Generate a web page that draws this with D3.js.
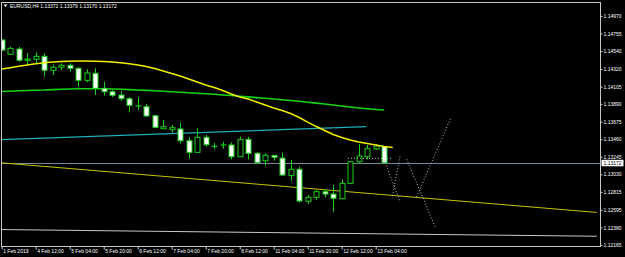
<!DOCTYPE html>
<html>
<head>
<meta charset="utf-8">
<script src="https://cdn.jsdelivr.net/npm/d3@7"></script>
<style>
  body { margin: 0; background: #000; }
  svg { display: block; font-family: 'Liberation Sans', Arial, sans-serif; }
</style>
</head>
<body>
<script>
/* global d3 */
var width = 625
var height = 257

var symbol = 'EURUSD,H4'

// time axis: bar index of each label
var timeTickBars = [0, 4, 8, 12, 16, 20, 24, 28, 32, 36, 40, 44]
var timeLabels = ['1 Feb 2019', '4 Feb 12:00', '5 Feb 04:00', '5 Feb 20:00', '6 Feb 12:00', '7 Feb 04:00',
  '7 Feb 20:00', '8 Feb 12:00', '11 Feb 04:00', '11 Feb 20:00', '12 Feb 12:00', '13 Feb 04:00']

var priceTicks = ['1.14970', '1.14755', '1.14540', '1.14320', '1.14105', '1.13890', '1.13675',
  '1.13460', '1.13245', '1.13030', '1.12815', '1.12595', '1.12380', '1.12165']

// H4 bars, oldest first
var opens = [1.14676, 1.14501, 1.14566, 1.14427, 1.14440, 1.14476, 1.14305, 1.14342, 1.14366, 1.14329,
  1.14182, 1.14268, 1.14084, 1.14043, 1.14002, 1.13957, 1.13867, 1.13859, 1.13749, 1.13589,
  1.13577, 1.13586, 1.13442, 1.13300, 1.13484, 1.13373, 1.13389, 1.13390, 1.13246, 1.13459,
  1.13288, 1.13197, 1.13263, 1.13230, 1.13018, 1.13092, 1.12700, 1.12749, 1.12818, 1.12789,
  1.12732, 1.12920, 1.13185, 1.13246, 1.13341, 1.13372]
var highs = [1.14688, 1.14594, 1.14590, 1.14517, 1.14525, 1.14513, 1.14378, 1.14391, 1.14391, 1.14345,
  1.14317, 1.14329, 1.14165, 1.14063, 1.14051, 1.13978, 1.13974, 1.13892, 1.13757, 1.13696,
  1.13635, 1.13663, 1.13484, 1.13594, 1.13512, 1.13418, 1.13430, 1.13423, 1.13491, 1.13491,
  1.13304, 1.13288, 1.13267, 1.13295, 1.13206, 1.13124, 1.12777, 1.12838, 1.12847, 1.12900,
  1.12969, 1.13194, 1.13402, 1.13390, 1.13402, 1.13379]
var lows = [1.14541, 1.14492, 1.14410, 1.14370, 1.14378, 1.14231, 1.14247, 1.14308, 1.14288, 1.14104,
  1.14158, 1.14002, 1.13994, 1.13978, 1.13932, 1.13790, 1.13818, 1.13736, 1.13594, 1.13586,
  1.13540, 1.13410, 1.13227, 1.13292, 1.13369, 1.13337, 1.13344, 1.13214, 1.13243, 1.13214,
  1.13169, 1.13136, 1.13197, 1.13010, 1.12952, 1.12683, 1.12667, 1.12716, 1.12749, 1.12573,
  1.12728, 1.12912, 1.13173, 1.13214, 1.13328, 1.13170]
var closes = [1.14553, 1.14574, 1.14427, 1.14443, 1.14476, 1.14305, 1.14342, 1.14366, 1.14329, 1.14182,
  1.14272, 1.14084, 1.14043, 1.13999, 1.13957, 1.13876, 1.13869, 1.13745, 1.13606, 1.13614,
  1.13602, 1.13442, 1.13300, 1.13484, 1.13393, 1.13375, 1.13391, 1.13246, 1.13459, 1.13288,
  1.13173, 1.13263, 1.13239, 1.13022, 1.13092, 1.12704, 1.12749, 1.12818, 1.12789, 1.12737,
  1.12920, 1.13185, 1.13255, 1.13344, 1.13377, 1.13172]

// moving averages (yellow one is shifted one bar forward)
var maYellow = [1.14321, 1.14337, 1.14355, 1.14370, 1.14384, 1.14398, 1.14406, 1.14413, 1.14416, 1.14419,
  1.14419, 1.14416, 1.14413, 1.14406, 1.14397, 1.14384, 1.14370, 1.14351, 1.14327, 1.14296,
  1.14266, 1.14235, 1.14198, 1.14161, 1.14125, 1.14094, 1.14057, 1.14014, 1.13978, 1.13953,
  1.13916, 1.13880, 1.13843, 1.13812, 1.13776, 1.13727, 1.13671, 1.13616, 1.13567, 1.13518,
  1.13482, 1.13451, 1.13426, 1.13408, 1.13390, 1.13371, 1.13359]
var maGreen = [1.14045, 1.14049, 1.14054, 1.14057, 1.14061, 1.14063, 1.14068, 1.14072, 1.14076, 1.14078,
  1.14079, 1.14079, 1.14078, 1.14076, 1.14072, 1.14068, 1.14063, 1.14059, 1.14054, 1.14049,
  1.14043, 1.14036, 1.14030, 1.14024, 1.14018, 1.14011, 1.14003, 1.13996, 1.13987, 1.13979,
  1.13970, 1.13962, 1.13953, 1.13945, 1.13935, 1.13925, 1.13914, 1.13903, 1.13892, 1.13880,
  1.13867, 1.13855, 1.13843, 1.13833, 1.13825, 1.13818]

// drawn objects: [barIndex, price] pairs
var cyanLine = [[-0.5, 1.13455], [42.9, 1.13614]]
var yellowTrend = [[0, 1.13171], [70, 1.12564]]
var whiteTrend = [[0, 1.12354], [70, 1.12272]]
var dottedLines = [
  [[45.0, 1.13206], [46.86, 1.12695]],
  [[46.86, 1.13249], [45.92, 1.12737]],
  [[47.65, 1.13214], [50.98, 1.12389]],
  [[48.82, 1.12756], [52.82, 1.13717]],
  [[40.74, 1.13227], [45.92, 1.13227]]
]
var bidPrice = 1.13172

var plotLeft = 1.5
var plotRight = 600.5
var plotTop = 2.5
var plotBottom = 246.5

var svg = d3.select('body').append('svg')
  .attr('width', width)
  .attr('height', height)

var x = d3.scaleLinear().domain([0, 44]).range([1.7, 375.7])
var y = d3.scaleLinear().domain([1.14970, 1.12165]).range([16, 245])

svg.append('clipPath').attr('id', 'plot')
  .append('rect')
  .attr('x', plotLeft).attr('y', plotTop)
  .attr('width', plotRight - plotLeft).attr('height', plotBottom - plotTop)

var plot = svg.append('g').attr('clip-path', 'url(#plot)')

function seg (pts) {
  return d3.line()
    .x(function (d) { return x(d[0]) })
    .y(function (d) { return y(d[1]) })(pts)
}

// bid line
plot.append('line')
  .attr('x1', plotLeft).attr('x2', plotRight)
  .attr('y1', Math.round(y(bidPrice)) + 0.5).attr('y2', Math.round(y(bidPrice)) + 0.5)
  .attr('stroke', '#778899')

plot.append('path').attr('d', seg(whiteTrend))
  .attr('fill', 'none').attr('stroke', '#c8c8c8').attr('stroke-width', 1)
plot.append('path').attr('d', seg(yellowTrend))
  .attr('fill', 'none').attr('stroke', '#c4c400').attr('stroke-width', 1)
plot.append('path').attr('d', seg(cyanLine))
  .attr('fill', 'none').attr('stroke', '#1fb0b8').attr('stroke-width', 1.3)

var maLine = d3.line()
  .x(function (d, i) { return x(i) })
  .y(function (d) { return y(d) })

plot.append('path').attr('d', maLine(maGreen))
  .attr('fill', 'none').attr('stroke', '#12d412').attr('stroke-width', 1.6)

// candles
var bars = d3.range(opens.length)
var candle = plot.selectAll('.candle')
  .data(bars)
  .enter()
  .append('g')
  .attr('class', 'candle')

candle.append('line')
  .attr('x1', function (i) { return Math.round(x(i)) + 0.5 })
  .attr('x2', function (i) { return Math.round(x(i)) + 0.5 })
  .attr('y1', function (i) { return y(highs[i]) })
  .attr('y2', function (i) { return y(lows[i]) })
  .attr('stroke', '#14d214')

candle.append('rect')
  .attr('x', function (i) { return Math.round(x(i)) - 2 })
  .attr('y', function (i) { return y(Math.max(opens[i], closes[i])) })
  .attr('width', 5)
  .attr('height', function (i) { return Math.max(0.01, Math.abs(y(opens[i]) - y(closes[i]))) })
  .attr('fill', function (i) { return closes[i] >= opens[i] ? '#000' : '#fff' })
  .attr('stroke', '#14d214')
  .attr('stroke-width', 1)

plot.append('path').attr('d', maLine(maYellow))
  .attr('fill', 'none').attr('stroke', '#f0f000').attr('stroke-width', 1.5)

dottedLines.forEach(function (pts) {
  plot.append('path').attr('d', seg(pts))
    .attr('fill', 'none').attr('stroke', '#c0c0c0')
    .attr('stroke-width', 1).attr('stroke-dasharray', '1,2')
})

// frame
svg.append('rect')
  .attr('x', plotLeft).attr('y', plotTop)
  .attr('width', plotRight - plotLeft).attr('height', plotBottom - plotTop)
  .attr('fill', 'none').attr('stroke', '#c8c8c8')

// price axis
var yAxis = d3.axisRight(y)
  .tickValues(priceTicks.map(Number))
  .tickFormat(function (d, i) { return priceTicks[i] })
  .tickSize(2)
  .tickSizeOuter(0)
  .tickPadding(1)

var ya = svg.append('g')
  .attr('transform', 'translate(' + plotRight + ',0)')
  .call(yAxis)
ya.select('.domain').remove()
ya.selectAll('line').attr('stroke', '#c8c8c8')
ya.selectAll('text').attr('fill', '#fff').style('font-size', '5px')
  .style('font-family', "'Liberation Sans', Arial, sans-serif")

// time axis
var xAxis = d3.axisBottom(x)
  .tickValues(timeTickBars)
  .tickFormat(function (d, i) { return timeLabels[i] })
  .tickSize(3)
  .tickSizeOuter(0)

var xa = svg.append('g')
  .attr('transform', 'translate(0,' + plotBottom + ')')
  .call(xAxis)
xa.select('.domain').remove()
xa.selectAll('line').attr('stroke', '#c8c8c8')
xa.selectAll('text')
  .attr('fill', '#fff')
  .attr('text-anchor', 'start')
  .attr('x', 1)
  .attr('y', 2.5)
  .style('font-size', '5px')
  .style('font-family', "'Liberation Sans', Arial, sans-serif")

// bid price tag
svg.append('rect')
  .attr('x', plotRight + 1).attr('y', y(bidPrice) - 3)
  .attr('width', 22).attr('height', 6.5)
  .attr('fill', '#fff')
svg.append('text')
  .attr('x', plotRight + 3).attr('y', y(bidPrice))
  .attr('dy', '0.35em')
  .attr('fill', '#000')
  .style('font-size', '5px')
  .text(bidPrice.toFixed(5))

// header
svg.append('path')
  .attr('d', 'M3.5,4.5 L7.5,4.5 L5.5,7 Z')
  .attr('fill', '#fff')
svg.append('text')
  .attr('x', 10).attr('y', 7.5)
  .attr('fill', '#fff')
  .style('font-size', '5px')
  .text(symbol + '  ' + [opens[opens.length - 1], highs[highs.length - 1], lows[lows.length - 1], closes[closes.length - 1]]
    .map(function (v) { return v.toFixed(5) }).join(' '))
</script>
</body>
</html>
